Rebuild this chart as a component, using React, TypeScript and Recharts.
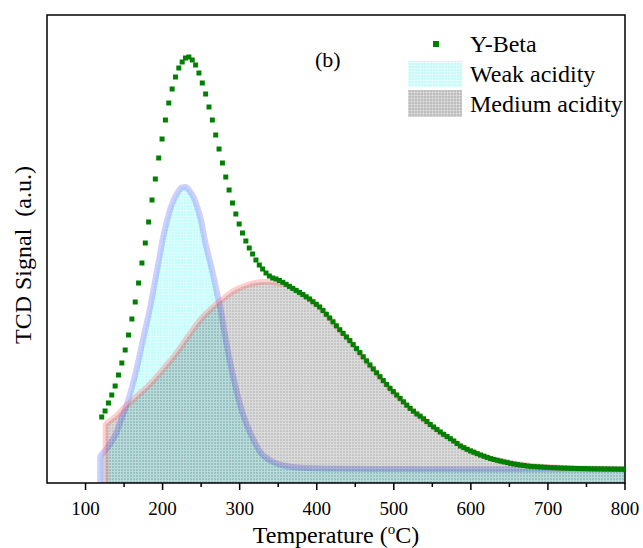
import { ComposedChart, Area, Scatter, XAxis, YAxis, ReferenceArea } from "recharts";

// Y-Beta TCD trace, sampled every 4.35 °C from 121 °C (a.u.)
const betaStart = 121;
const betaStep = 4.35;
const betaSignal = [
  66, 72, 80, 88, 97, 108, 120, 133, 148, 164,
  181, 200, 220, 240, 261, 283, 304, 325, 344, 363,
  380, 394, 406, 415, 421, 425, 426, 423, 418, 410,
  400, 389, 376, 363, 348, 334, 320, 306, 293, 280,
  269, 259, 250, 242, 235, 229, 223, 218, 214, 210,
  207, 205,
  204, 202.5, 200.7, 198.7, 196.6, 194.6, 192.6, 190.6, 188.5, 186.2,
  184, 181.3, 178.6, 176, 172.5, 168.7, 165, 161.2, 157.2, 153.3,
  149.6, 146, 142.4, 138.4, 134.4, 130.4, 126.2, 122.1, 118, 114.1,
  110.2, 106.3, 102.4, 98.5, 94.7, 91.4, 88, 84.6, 81.2, 77.8,
  74.6, 71.8, 69, 66.8, 64.2, 61.5, 58.5, 56, 53.5, 51,
  48.7, 46.5, 44.3, 42, 39.5, 37, 35.4, 33.7, 32.1, 30.8,
  29.4, 28, 26.8, 25.6, 24.4, 23.5, 22.7, 21.9, 21.1, 20.4,
  19.6, 19, 18.4, 17.9, 17.5, 17, 16.6, 16.4, 16.2, 16,
  15.8, 15.6, 15.4, 15.3, 15.1, 15, 14.9, 14.8, 14.7, 14.6,
  14.5, 14.4, 14.4, 14.3, 14.2, 14.2, 14.1, 14.1, 14, 14,
  13.9, 13.9, 13.8, 13.8, 13.7,
];

// fitted weak acidity peak
const weakTemps = [
  119, 119.1, 125, 130, 135, 140, 145, 150, 155, 160, 165, 170, 175, 180, 185, 190, 195, 200,
  205, 210, 215, 220, 225, 230, 235, 240, 245, 250, 255, 260, 265, 270, 275, 280, 285, 290,
  295, 300, 305, 310, 315, 320, 325, 330, 335, 340, 350, 360, 375, 400, 450, 500, 600, 700, 800,
];
const weakSignal = [
  0, 26, 32, 37, 43, 50, 61, 71, 82, 95, 110, 127, 145, 162, 180, 201, 222, 243,
  260, 274, 284, 291, 295.5, 296, 292, 286, 276, 262, 242, 226, 210, 192, 175, 152, 131, 112,
  95, 80, 67, 57, 48, 40, 33, 28, 25, 22.5, 19, 17, 15.5, 14.7, 14.2, 14, 13.8, 13.7, 13.7,
];

// fitted medium acidity peak
const mediumTemps = [
  126, 126.1, 130, 140, 150, 160, 170, 180, 190, 200, 210, 220, 230, 240, 250, 260, 270, 280,
  290, 300, 310, 320, 330, 340, 350, 360, 370, 380, 390, 400, 410, 420, 430, 440, 450, 460,
  470, 480, 490, 500, 510, 520, 530, 540, 550, 560, 570, 580, 590, 600, 620, 640, 660, 680,
  700, 720, 750, 800,
];
const mediumSignal = [
  0, 58, 61, 67, 75, 82, 89, 96, 104, 113, 122, 132, 143, 154, 164, 172, 179, 185,
  191, 195, 198, 200, 201, 201, 200, 198, 194, 189, 184, 179, 171, 162, 153, 145, 136, 126,
  117, 108, 99, 90, 83, 76, 69, 63, 57, 51, 46, 41, 36, 32, 26, 22, 19, 17,
  16, 15, 14.5, 14,
];

const tempTicks = [100, 150, 200, 250, 300, 350, 400, 450, 500, 550, 600, 650, 700, 750, 800];

const betaData = betaSignal.map((v, i) => ({ T: betaStart + i * betaStep, v }));
const weakData = weakTemps.map((T, i) => ({ T, v: weakSignal[i] }));
const mediumData = mediumTemps.map((T, i) => ({ T, v: mediumSignal[i] }));

const serif = '"Liberation Serif", "Times New Roman", serif';

const TempTick = (props: any) => {
  const { x, y, payload } = props;
  const major = payload.value % 100 === 0;
  return (
    <g>
      <line x1={x} x2={x} y1={y} y2={y + (major ? 7 : 4)} stroke="#000" strokeWidth={1.5} />
      {major && (
        <text x={x} y={y + 32} textAnchor="middle" fontSize={19} fontFamily={serif} fill="#000">
          {payload.value}
        </text>
      )}
    </g>
  );
};

const SquareDot = (props: any) => (
  <rect x={props.cx - 2.5} y={props.cy - 2.5} width={5} height={5} fill="#008000" />
);

const swatchWeak =
  "repeating-linear-gradient(0deg, rgba(255,255,255,0.45) 0 1px, transparent 1px 3px), repeating-linear-gradient(90deg, rgba(255,255,255,0.45) 0 1px, transparent 1px 3px), #c4fafa";
const swatchMedium =
  "repeating-linear-gradient(0deg, rgba(255,255,255,0.3) 0 1px, transparent 1px 3px), repeating-linear-gradient(90deg, rgba(255,255,255,0.3) 0 1px, transparent 1px 3px), #bdbdbd";

export default function App() {
  return (
    <div style={{ position: "absolute", left: 0, top: 0, width: 643, height: 548, background: "#fff" }}>
      <ComposedChart width={643} height={548} margin={{ top: 15, right: 18, left: 47, bottom: 0 }}>
        <defs>
          <pattern id="weakPat" width="3" height="3" patternUnits="userSpaceOnUse">
            <rect width="3" height="3" fill="#dcffff" />
            <rect x="1" y="1" width="2" height="2" fill="#c4fbfb" />
          </pattern>
          <pattern id="mediumPat" width="3" height="3" patternUnits="userSpaceOnUse">
            <rect width="3" height="3" fill="#000" fillOpacity={0.14} />
            <rect x="1" y="1" width="2" height="2" fill="#000" fillOpacity={0.1} />
          </pattern>
        </defs>
        <XAxis
          dataKey="T"
          type="number"
          domain={[50, 800]}
          ticks={tempTicks}
          allowDataOverflow
          height={65}
          tickSize={0}
          tickMargin={0}
          tickLine={false}
          axisLine={false}
          tick={<TempTick />}
          interval={0}
        />
        <YAxis dataKey="v" type="number" domain={[0, 468]} hide allowDataOverflow />
        <Area
          data={weakData}
          type="monotone"
          dataKey="v"
          fill="url(#weakPat)"
          fillOpacity={1}
          stroke="rgba(110,110,255,0.33)"
          strokeWidth={6}
          dot={false}
          activeDot={false}
          isAnimationActive={false}
        />
        <Area
          data={mediumData}
          type="monotone"
          dataKey="v"
          fill="url(#mediumPat)"
          fillOpacity={1}
          stroke="rgba(255,110,110,0.33)"
          strokeWidth={6}
          dot={false}
          activeDot={false}
          isAnimationActive={false}
        />
        <Scatter data={betaData} dataKey="v" shape={<SquareDot />} isAnimationActive={false} />
        <ReferenceArea x1={50} x2={800} y1={0} y2={468} fill="none" stroke="#000" strokeWidth={1.5} />
      </ComposedChart>
      <svg
        width={643}
        height={548}
        style={{ position: "absolute", left: 0, top: 0, pointerEvents: "none" }}
        fontFamily={serif}
      >
        <text x={315} y={67} fontSize={22}>(b)</text>
        <rect x={433} y={41} width={6} height={6} fill="#008000" />
        <text x={470} y={52} fontSize={24}>Y-Beta</text>
        <text x={470} y={82} fontSize={24}>Weak acidity</text>
        <text x={470} y={112} fontSize={24}>Medium acidity</text>
        <text x={336} y={543} fontSize={24} textAnchor="middle">
          Temperature (<tspan dy={-9} fontSize={15}>o</tspan>
          <tspan dy={9}>C)</tspan>
        </text>
        <text transform="translate(31,255) rotate(-90)" fontSize={24} textAnchor="middle">
          {"TCD Signal\u00a0\u00a0(a.u.)"}
        </text>
      </svg>
      <div style={{ position: "absolute", left: 408, top: 61, width: 54, height: 26, background: swatchWeak }} />
      <div style={{ position: "absolute", left: 408, top: 90, width: 54, height: 27, background: swatchMedium }} />
    </div>
  );
}
